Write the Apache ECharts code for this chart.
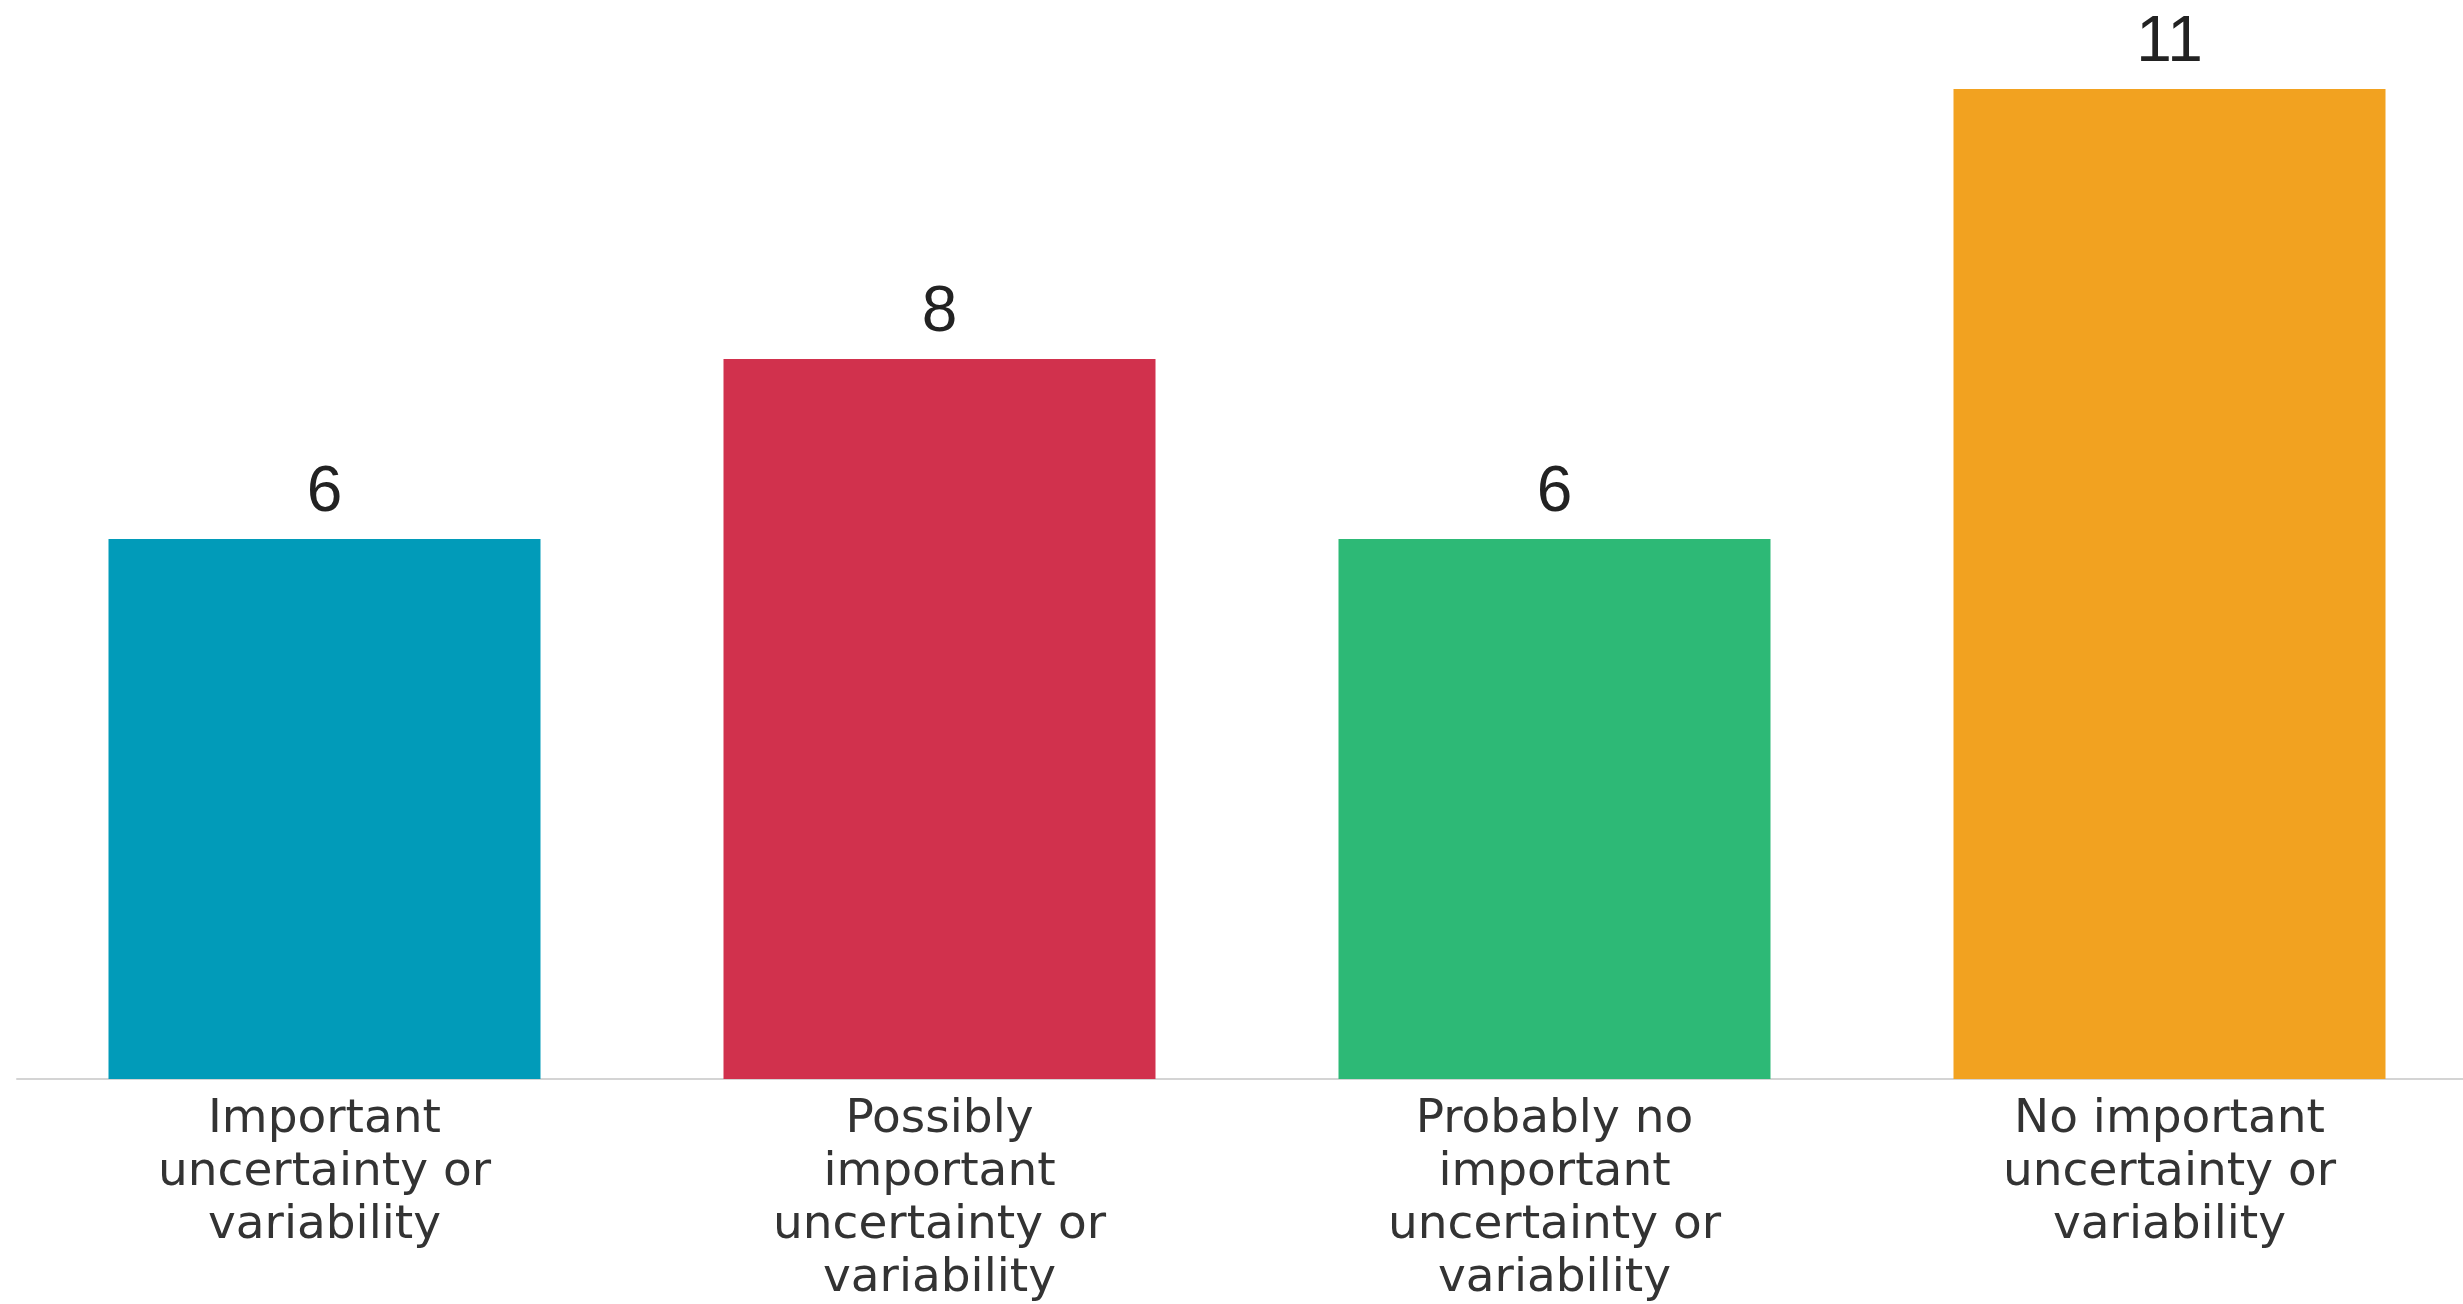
<!DOCTYPE html>
<html><head><meta charset="utf-8">
<script src="https://cdn.jsdelivr.net/npm/echarts@6/dist/echarts.min.js"></script>
<style>html,body{margin:0;padding:0;background:#fff}#c{width:2463px;height:1304px}</style>
</head><body><div id="c"></div>
<script>
const categories = ["Important\nuncertainty or\nvariability", "Possibly\nimportant\nuncertainty or\nvariability", "Probably no\nimportant\nuncertainty or\nvariability", "No important\nuncertainty or\nvariability"];
const values = [6, 8, 6, 11];
const colors = ["#019BB9", "#D1314D", "#2DB976", "#F2A220"];

const chart = echarts.init(document.getElementById('c'));
chart.setOption({
  animation: false,
  grid: {left: 17, width: 2460, top: 89, bottom: 225, containLabel: false, outerBoundsMode: 'none'},
  xAxis: {
    type: 'category', data: categories,
    axisLine: {show: true, lineStyle: {color: '#d4d4d4', width: 2}},
    axisTick: {show: false},
    axisLabel: {color: '#333', fontFamily: '"DejaVu Sans", sans-serif', fontSize: 47, lineHeight: 53, margin: 14, interval: 0}
  },
  yAxis: {type: 'value', min: 0, max: 11, show: false, splitLine: {show: false}},
  series: [{
    type: 'bar', barWidth: 432,
    data: values.map((v, i) => ({value: v, itemStyle: {color: colors[i]}})),
    label: {show: true, position: 'top', distance: 14, color: '#222', fontFamily: '"Liberation Sans", Arial, sans-serif', fontSize: 64}
  }]
});
</script></body></html>
